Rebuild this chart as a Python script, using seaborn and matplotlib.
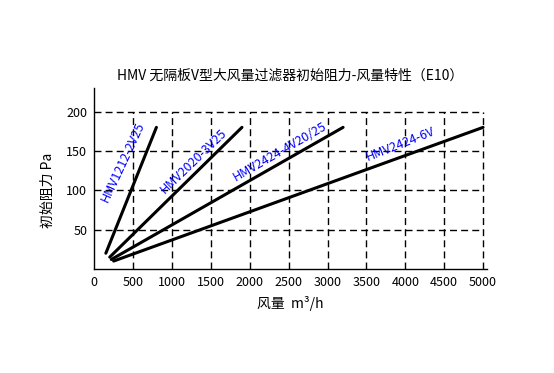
import matplotlib
matplotlib.use("Agg")
import matplotlib.pyplot as plt
import seaborn as sns
import pandas as pd

sns.set_theme(style="white")
plt.rcParams['font.family'] = ['Noto Sans CJK SC', 'DejaVu Sans']
plt.rcParams['text.color'] = 'black'
plt.rcParams['axes.labelcolor'] = 'black'
plt.rcParams['xtick.color'] = 'black'
plt.rcParams['ytick.color'] = 'black'

models = ["HMV1212-2V25", "HMV2020-3V25", "HMV2424-4V20/25", "HMV2424-6V"]
airflow = [[150, 800], [200, 1900], [220, 3200], [250, 5000]]
resistance = [[20, 180], [15, 180], [12, 180], [10, 180]]
xticks = [0, 500, 1000, 1500, 2000, 2500, 3000, 3500, 4000, 4500, 5000]
yticks = [50, 100, 150, 200]
label_pos = [(375, 136, 65), (1279, 137, 44), (2385, 149, 30), (3940, 159, 21.6)]

rows = []
for m, xs, ys in zip(models, airflow, resistance):
    for x, y in zip(xs, ys):
        rows.append({"model": m, "airflow": x, "resistance": y})
df = pd.DataFrame(rows)

fig = plt.figure(figsize=(5.54, 3.73), dpi=100)
ax = fig.add_axes([0.170, 0.279, 0.709, 0.485])

# dashed grid limited to 0..200
ax.vlines(xticks[1:], 0, 200, colors="black", linestyles=(0, (5, 3)), linewidth=1, zorder=1)
ax.hlines(yticks, 0, 5000, colors="black", linestyles=(0, (5, 3)), linewidth=1, zorder=1)

sns.lineplot(data=df, x="airflow", y="resistance", units="model", estimator=None,
             color="black", linewidth=2.2, ax=ax, zorder=3)

for m, (lx, ly, rot) in zip(models, label_pos):
    ax.text(lx, ly, m, color="blue", fontsize=9, rotation=rot,
            ha="center", va="center", rotation_mode="anchor", zorder=4)

ax.set_xlim(0, 5050)
ax.set_ylim(0, 230)
ax.set_xticks(xticks)
ax.set_yticks(yticks)
ax.tick_params(direction="in", length=4, colors="black", labelsize=9, pad=5)
for s in ["top", "right"]:
    ax.spines[s].set_visible(False)
for s in ["left", "bottom"]:
    ax.spines[s].set_color("black")
    ax.spines[s].set_linewidth(1)

ax.set_title("HMV 无隔板V型大风量过滤器初始阻力-风量特性（E10）", fontsize=10, pad=6, color="black")
ax.set_xlabel("风量  m³/h", fontsize=10, labelpad=5)
ax.set_ylabel("初始阻力 Pa", fontsize=10)
ax.yaxis.set_label_coords(-0.10, 100 / 230)

fig.savefig("out.png", dpi=100)
